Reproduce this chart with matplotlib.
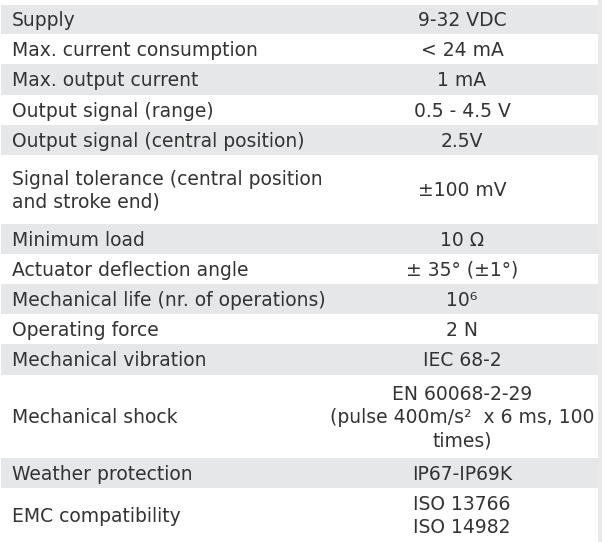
import os
import matplotlib
matplotlib.use("Agg")
import matplotlib.pyplot as plt
from matplotlib.font_manager import FontProperties

# ---- data ----
parameters = [
    "Supply",
    "Max. current consumption",
    "Max. output current",
    "Output signal (range)",
    "Output signal (central position)",
    "Signal tolerance (central position\nand stroke end)",
    "Minimum load",
    "Actuator deflection angle",
    "Mechanical life (nr. of operations)",
    "Operating force",
    "Mechanical vibration",
    "Mechanical shock",
    "Weather protection",
    "EMC compatibility",
]
values = [
    "9-32 VDC",
    "< 24 mA",
    "1 mA",
    "0.5 - 4.5 V",
    "2.5V",
    "\u00b1100 mV",
    "10 \u03a9",
    "\u00b1 35\u00b0 (\u00b11\u00b0)",
    "10\u2076",
    "2 N",
    "IEC 68-2",
    "EN 60068-2-29\n(pulse 400m/s\u00b2  x 6 ms, 100\ntimes)",
    "IP67-IP69K",
    "ISO 13766\nISO 14982",
]

# ---- layout ----
W, H = 602, 542
row_heights = [29.3, 30, 31, 30, 30, 69, 30, 30, 30, 30, 31, 83, 30, 54]
table_top = 4.7
table_right = 598.3
left_x = 12
value_cx = 462
line_step = 23.3
shade = "#e6e7e9"
strip = "#e9e9ea"
text_color = "#333333"

ttf = os.path.join(matplotlib.get_data_path(), "fonts", "ttf", "DejaVuSans.ttf")
if os.path.exists(ttf):
    fp = FontProperties(fname=ttf)
else:
    fp = FontProperties(family="DejaVu Sans")

fig = plt.figure(figsize=(W / 100, H / 100), dpi=100)
ax = fig.add_axes([0, 0, 1, 1])
ax.set_xlim(0, W)
ax.set_ylim(H, 0)
ax.axis("off")

tops = []
y = table_top
for h in row_heights:
    tops.append(y)
    y += h

shaded_idx = [i for i in range(len(parameters)) if i % 2 == 0]
ax.barh([tops[i] for i in shaded_idx],
        [table_right - 1] * len(shaded_idx),
        height=[row_heights[i] for i in shaded_idx],
        left=1, align="edge", color=shade, linewidth=0)
ax.axvspan(table_right, W, color=strip, linewidth=0)

# fit font size to the measured width of a label
fp.set_size(12)
probe = ax.text(0, 0, "Max. current consumption", fontproperties=fp)
fig.canvas.draw()
w = probe.get_window_extent(fig.canvas.get_renderer()).width
probe.remove()
fs = 12 * 245 / w
fp.set_size(fs)

for i, (p, v) in enumerate(zip(parameters, values)):
    center = tops[i] + row_heights[i] / 2
    plines = p.split("\n")
    n = len(plines)
    for k, line in enumerate(plines):
        yb = center + 6.8 + (k - (n - 1) / 2) * line_step
        ax.text(left_x, yb, line, fontproperties=fp, color=text_color,
                ha="left", va="baseline")
    vlines = v.split("\n")
    n = len(vlines)
    for k, line in enumerate(vlines):
        yb = center + 6.8 + (k - (n - 1) / 2) * line_step
        ax.text(value_cx, yb, line, fontproperties=fp, color=text_color,
                ha="center", va="baseline")

fig.savefig("out.png", dpi=100, facecolor="white")
